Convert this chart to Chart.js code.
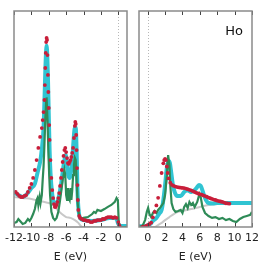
<!DOCTYPE html>
<html>
<head>
<meta charset="utf-8">
<script src="https://cdn.jsdelivr.net/npm/chart.js@4/dist/chart.umd.min.js"></script>
<style>
  html, body { margin: 0; padding: 0; background: #ffffff; }
  #wrap { position: relative; width: 266px; height: 266px; }
  #wrap canvas { position: absolute; left: 0; top: 0; }
</style>
</head>
<body>
<div id="wrap">
  <canvas id="panel-left" width="266" height="266"></canvas>
  <canvas id="panel-right" width="266" height="266"></canvas>
</div>
<script>
/* ========================================================
   1. DATA (arbitrary intensity units, E in eV)
   ======================================================== */
const leftTicks = [-12, -10, -8, -6, -4, -2, 0];
const rightTicks = [0, 2, 4, 6, 8, 10, 12];

// left panel - calculated spectrum (cyan)
const leftCalcE = [-12, -11.5, -11, -10.5, -10, -9.6, -9.3, -9.0, -8.8, -8.6, -8.5, -8.4, -8.3, -8.25, -8.2, -8.1, -8.0, -7.9, -7.8, -7.6, -7.4, -7.2, -7.0, -6.8, -6.6, -6.4, -6.2, -6.05, -5.9, -5.75, -5.6, -5.45, -5.3, -5.15, -5.0, -4.9, -4.8, -4.7, -4.55, -4.4, -4.0, -3.0, -2.0, -1.0, -0.5, -0.2, 0.0, 0.2, 1.0];
const leftCalc = [16.2, 14.8, 13.9, 15.3, 18, 20, 25, 30, 36, 46, 58, 72, 82, 84, 82, 70, 52, 35, 25, 15, 11, 10, 11.6, 14.8, 19.4, 25.5, 31, 33.3, 28.7, 24, 22.7, 25.5, 31, 40, 46, 46, 35.6, 17, 7, 4.2, 3.2, 2.8, 3.2, 4.2, 4.2, 3.7, 1.4, 0.5, 0.5];

// left panel - measured spectrum (red dots)
const leftExpE = [-11.8, -11.6, -11.4, -11.2, -11.0, -10.8, -10.6, -10.4, -10.2, -10.0, -9.8, -9.6, -9.4, -9.2, -9.0, -8.8, -8.7, -8.6, -8.5, -8.45, -8.4, -8.35, -8.3, -8.25, -8.2, -8.15, -8.1, -8.05, -8.0, -7.95, -7.9, -7.8, -7.7, -7.6, -7.5, -7.4, -7.3, -7.2, -7.1, -7.0, -6.9, -6.8, -6.7, -6.6, -6.5, -6.4, -6.3, -6.2, -6.1, -6.0, -5.9, -5.8, -5.7, -5.6, -5.5, -5.4, -5.3, -5.2, -5.1, -5.0, -4.95, -4.9, -4.85, -4.8, -4.75, -4.7, -4.65, -4.6, -4.5, -4.4, -4.2, -4.0, -3.8, -3.6, -3.4, -3.2, -3.0, -2.8, -2.6, -2.4, -2.2, -2.0, -1.8, -1.6, -1.4, -1.2, -1.0, -0.8, -0.6, -0.4, -0.2, 0.0, 0.1, 0.2];
const leftExp = [16.2, 15.3, 14.4, 13.9, 13.9, 14.4, 14.8, 16.2, 18.1, 19.9, 22.7, 26.4, 31.0, 36.6, 41.7, 45.8, 49.5, 53.2, 58.8, 65.7, 73.6, 80.6, 85.6, 87.5, 86.6, 79.6, 70.4, 62.5, 55.1, 47.2, 40.3, 31.0, 22.7, 17.1, 13.4, 10.6, 9.3, 9.3, 10.2, 11.6, 13.4, 15.7, 19.0, 22.7, 26.4, 30.1, 32.9, 35.6, 36.6, 34.7, 31.9, 29.6, 29.2, 30.1, 31.0, 32.4, 34.3, 36.6, 41.2, 46.8, 48.6, 47.7, 42.6, 35.6, 27.3, 19.4, 12.5, 7.9, 5.1, 4.2, 3.7, 3.2, 3.2, 2.8, 2.8, 2.3, 2.3, 2.8, 2.8, 3.2, 3.2, 3.2, 3.7, 3.7, 4.2, 4.6, 4.6, 4.6, 4.2, 4.6, 4.2, 2.3, 0.9, 0];

// left panel - partial contribution (green)
const leftPartE = [-12.0, -11.7, -11.5, -11.3, -11.0, -10.7, -10.4, -10.2, -10.0, -9.8, -9.6, -9.4, -9.3, -9.2, -9.05, -8.95, -8.8, -8.7, -8.6, -8.5, -8.4, -8.3, -8.25, -8.15, -8.05, -7.95, -7.85, -7.7, -7.5, -7.3, -7.1, -6.9, -6.7, -6.55, -6.4, -6.3, -6.2, -6.1, -6.0, -5.9, -5.8, -5.7, -5.6, -5.5, -5.4, -5.3, -5.2, -5.1, -5.0, -4.9, -4.8, -4.7, -4.6, -4.5, -4.3, -4.0, -3.5, -3.0, -2.8, -2.6, -2.4, -2.0, -1.6, -1.2, -0.8, -0.4, -0.2, -0.05, 0.05, 0.2, 1.0];
const leftPart = [1.9, 2.3, 3.7, 2.8, 1.4, 1.9, 3.7, 2.8, 4.2, 6, 8.3, 12.5, 13.4, 10.2, 13.9, 11.1, 14.8, 21.8, 28, 38, 50, 58, 60, 50, 35.6, 24, 14.8, 7, 4.2, 3.2, 4.2, 7, 12.5, 17, 21.8, 24, 26.4, 24, 14.8, 12.5, 18, 13.4, 12.5, 18, 12.5, 17, 24, 28.7, 32, 31, 21.8, 12.5, 7.9, 5.6, 3.7, 4.2, 4.6, 6, 7, 6.5, 7.9, 7.4, 8.3, 9.3, 10.2, 11.6, 13.4, 12.5, 2.3, 0, 0];

// left panel - background (gray)
const leftBgE = [-12, -11, -10, -9, -8.5, -8, -7.5, -7, -6.5, -6, -5.5, -5, -4.6, -4.3, -4, 0, 1];
const leftBg = [13.9, 13.4, 13.0, 12.0, 11.6, 11.1, 10.2, 7.9, 6.0, 4.6, 4.2, 3.2, 1.9, 0.5, 0, 0, 0];

// right panel - calculated spectrum (cyan)
const rightCalcE = [-1.0, -0.5, 0.0, 0.3, 0.6, 1.0, 1.3, 1.6, 1.8, 2.0, 2.2, 2.4, 2.55, 2.7, 2.9, 3.1, 3.4, 3.8, 4.2, 4.6, 5.0, 5.3, 5.6, 5.9, 6.1, 6.4, 6.7, 7.0, 7.5, 8.0, 12.0];
const rightCalc = [0.3, 0.3, 0.8, 1.4, 2.8, 4.2, 6, 7.9, 12.5, 19.4, 27.3, 30.5, 29.6, 25.5, 19.4, 16.2, 14.4, 14.4, 16.2, 17, 16.2, 16.7, 18, 19.4, 19, 15.7, 12.5, 11.1, 10.9, 11.1, 11.1];

// right panel - measured spectrum (red dots)
const rightExpE = [-0.6, -0.4, -0.2, 0.0, 0.2, 0.4, 0.6, 0.8, 1.0, 1.2, 1.4, 1.6, 1.8, 1.9, 2.0, 2.1, 2.2, 2.3, 2.4, 2.6, 2.8, 3.0, 3.2, 3.4, 3.6, 3.8, 4.0, 4.2, 4.4, 4.6, 4.8, 5.0, 5.2, 5.4, 5.6, 5.8, 6.0, 6.2, 6.4, 6.6, 6.8, 7.0, 7.2, 7.4, 7.6, 7.8, 8.0, 8.2, 8.4, 8.6, 8.8, 9.0, 9.2, 9.4];
const rightExp = [0, 0, 0.5, 0.9, 1.4, 2.0, 4.5, 7.0, 10.0, 13.5, 19.0, 25.0, 29.5, 31.0, 31.5, 31.0, 28.0, 25.0, 22.5, 20.5, 19.5, 19.0, 18.7, 18.5, 18.3, 18.2, 18.1, 18.0, 17.8, 17.5, 17.2, 17.0, 16.6, 16.2, 15.8, 15.5, 15.2, 15.0, 14.6, 14.3, 14.0, 13.6, 13.3, 13.0, 12.7, 12.5, 12.2, 12.0, 11.8, 11.6, 11.3, 11.0, 10.9, 10.8];

// right panel - partial contribution (green)
const rightPartE = [-1.0, -0.6, -0.3, -0.1, 0.05, 0.2, 0.4, 0.6, 0.8, 1.0, 1.2, 1.5, 1.8, 2.0, 2.2, 2.35, 2.5, 2.6, 2.75, 2.95, 3.2, 3.5, 3.8, 4.0, 4.2, 4.4, 4.6, 4.8, 5.0, 5.2, 5.4, 5.7, 5.95, 6.1, 6.3, 6.6, 7.0, 7.4, 7.8, 8.2, 8.6, 9.0, 9.4, 9.8, 10.2, 10.6, 11.0, 11.4, 11.8, 12.0];
const rightPart = [0, 0.5, 3.2, 7, 8.8, 6, 4.6, 6.5, 7.4, 6.5, 7.9, 9.3, 11.1, 14.8, 24, 33.3, 28.7, 19.4, 11.1, 8.3, 7, 7.4, 7.9, 6.5, 9.3, 10.6, 8.8, 11.6, 10.2, 11.1, 9.3, 11.6, 15.3, 13.9, 9.3, 6.5, 5.1, 4.2, 4.6, 3.7, 4.2, 3.2, 3.7, 2.8, 2.3, 3.7, 4.6, 5.1, 5.6, 7];

// right panel - background (gray)
const rightBgE = [-1, 0, 0.8, 1.2, 1.6, 2.0, 2.5, 3.0, 3.5, 4.0, 5.0, 6.0, 7.0, 8.0, 9.0, 12.0];
const rightBg = [0, 0, 0, 0.9, 1.9, 3.2, 4.6, 6.0, 7.0, 7.4, 8.3, 9.3, 10.2, 10.6, 11.0, 11.1];

/* ========================================================
   2. STYLE
   ======================================================== */
const COLOR_CALC = 'rgb(48, 196, 210)';
const COLOR_EXP = 'rgb(200, 30, 58)';
const COLOR_PART = 'rgb(46, 139, 87)';
const COLOR_BG = 'rgb(200, 200, 200)';
const FONT_FAMILY = "'DejaVu Sans', sans-serif";

function pairs(xs, ys) {
  return xs.map((x, i) => ({ x: x, y: ys[i] }));
}

// frame, inward ticks, dotted line at E = 0 and the element label
const framePlugin = {
  id: 'frame',
  beforeDatasetsDraw(chart) {
    const { ctx, chartArea: a, scales: { x } } = chart;
    const x0 = Math.round(x.getPixelForValue(0)) + 0.5;
    ctx.save();
    ctx.strokeStyle = '#b8b8b8';
    ctx.lineWidth = 1;
    ctx.setLineDash([1, 2]);
    ctx.beginPath();
    ctx.moveTo(x0, a.top);
    ctx.lineTo(x0, a.bottom);
    ctx.stroke();
    ctx.restore();
  },
  afterDraw(chart) {
    const { ctx, chartArea: a, scales: { x } } = chart;
    ctx.save();
    ctx.strokeStyle = '#444444';
    ctx.lineWidth = 1;
    x.ticks.forEach(t => {
      const px = Math.round(x.getPixelForValue(t.value)) + 0.5;
      ctx.beginPath();
      ctx.moveTo(px, a.top);
      ctx.lineTo(px, a.top + 4);
      ctx.moveTo(px, a.bottom);
      ctx.lineTo(px, a.bottom - 4);
      ctx.stroke();
    });
    ctx.strokeStyle = '#8a8a8a';
    ctx.lineWidth = 1.5;
    ctx.strokeRect(a.left, a.top, a.right - a.left, a.bottom - a.top);

    const label = chart.options.plugins.frame.label;
    if (label) {
      ctx.fillStyle = '#111111';
      ctx.font = '13px ' + FONT_FAMILY;
      ctx.textAlign = 'right';
      ctx.textBaseline = 'middle';
      ctx.fillText(label, a.right - 9, a.top + 21);
    }
    ctx.restore();
  }
};

/* ========================================================
   3. BUILD A PANEL
   ======================================================== */
function makePanel(canvasId, p) {
  const ctx = document.getElementById(canvasId).getContext('2d');
  return new Chart(ctx, {
    type: 'line',
    data: {
      datasets: [
        {
          data: pairs(p.expE, p.exp),
          showLine: false,
          pointRadius: 1.9,
          pointBorderWidth: 0,
          pointBackgroundColor: COLOR_EXP
        },
        {
          data: pairs(p.partE, p.part),
          borderColor: COLOR_PART,
          borderWidth: 2.2,
          pointRadius: 0,
          tension: 0
        },
        {
          data: pairs(p.calcE, p.calc),
          borderColor: COLOR_CALC,
          borderWidth: 4,
          pointRadius: 0,
          cubicInterpolationMode: 'monotone'
        },
        {
          data: pairs(p.bgE, p.bg),
          borderColor: COLOR_BG,
          borderWidth: 2,
          pointRadius: 0,
          cubicInterpolationMode: 'monotone'
        }
      ]
    },
    options: {
      responsive: false,
      animation: false,
      layout: { padding: p.padding },
      plugins: {
        legend: { display: false },
        tooltip: { enabled: false },
        frame: { label: p.label }
      },
      scales: {
        x: {
          type: 'linear',
          min: p.min,
          max: p.max,
          afterBuildTicks: scale => {
            scale.ticks = p.ticks.map(v => ({ value: v }));
          },
          afterFit: scale => { scale.height = 39; },
          grid: { display: false, drawTicks: false },
          border: { display: false },
          ticks: {
            autoSkip: false,
            maxRotation: 0,
            padding: 5,
            color: '#222222',
            font: { family: FONT_FAMILY, size: 11 }
          },
          title: {
            display: true,
            text: 'E (eV)',
            color: '#222222',
            padding: { top: 0, bottom: 2.5 },
            font: { family: FONT_FAMILY, size: 11 }
          }
        },
        y: {
          display: false,
          min: 0,
          max: 100
        }
      }
    },
    plugins: [framePlugin]
  });
}

makePanel('panel-left', {
  calcE: leftCalcE, calc: leftCalc,
  expE: leftExpE, exp: leftExp,
  partE: leftPartE, part: leftPart,
  bgE: leftBgE, bg: leftBg,
  ticks: leftTicks, min: -12, max: 1,
  padding: { left: 14, right: 139, top: 11, bottom: 0 },
  label: ''
});

makePanel('panel-right', {
  calcE: rightCalcE, calc: rightCalc,
  expE: rightExpE, exp: rightExp,
  partE: rightPartE, part: rightPart,
  bgE: rightBgE, bg: rightBg,
  ticks: rightTicks, min: -1, max: 12,
  padding: { left: 139, right: 14, top: 11, bottom: 0 },
  label: 'Ho'
});
</script>
</body>
</html>
